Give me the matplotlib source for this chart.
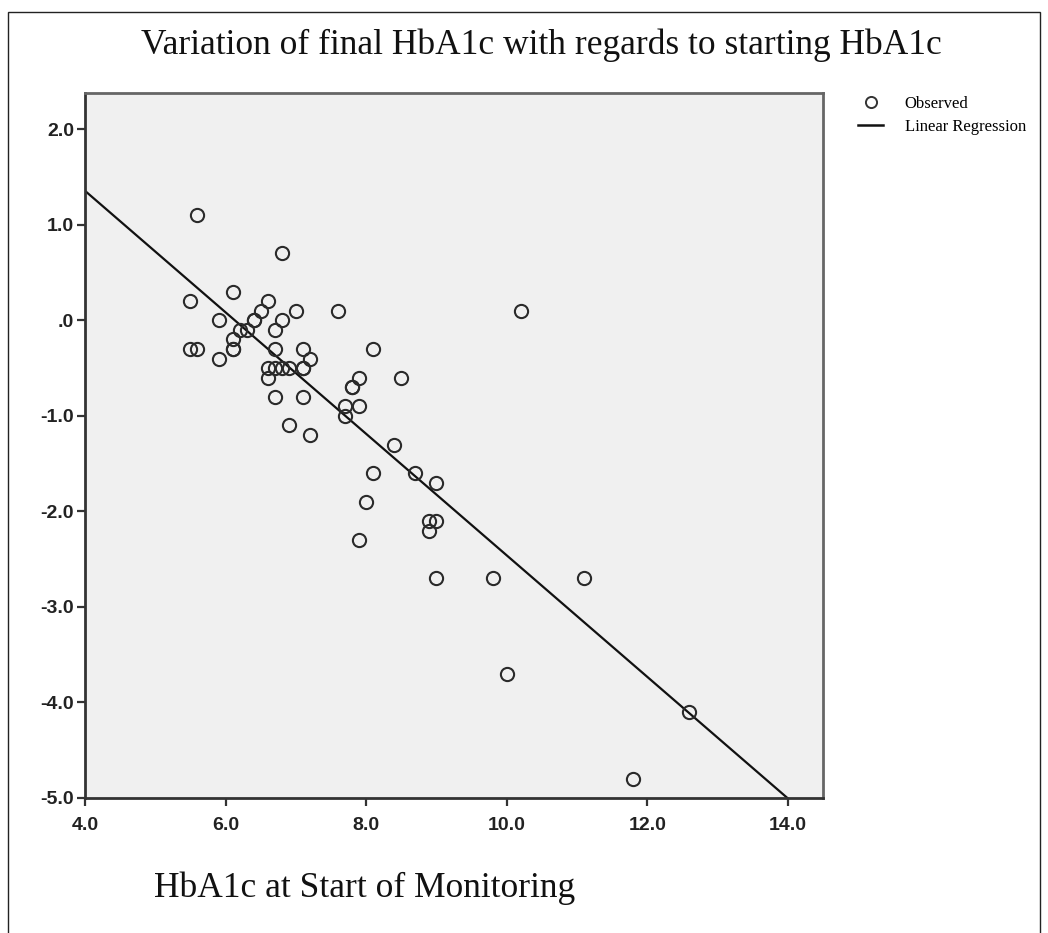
import numpy as np
import matplotlib
matplotlib.use("Agg")
import matplotlib.pyplot as plt
from matplotlib.lines import Line2D
from matplotlib.patches import Rectangle

# ---- data ----
start_hba1c = [5.6, 6.8, 6.1, 5.5, 6.6, 6.5, 7.0, 7.6, 10.2,
               5.9, 6.4, 6.4, 6.8,
               6.2, 6.3, 6.7,
               6.1,
               5.5, 5.6, 6.1, 6.1, 6.7, 7.1, 8.1,
               5.9, 7.2,
               6.6, 6.7, 6.8, 6.9, 7.1, 7.1,
               6.6, 7.9, 8.5,
               7.8, 7.8,
               6.7, 7.1,
               7.7, 7.9,
               7.7,
               6.9,
               7.2,
               8.4,
               8.1, 8.7,
               9.0,
               8.0,
               8.9, 9.0,
               8.9,
               7.9,
               9.0, 9.8, 11.1,
               10.0,
               12.6,
               11.8]
change_hba1c = [1.1, 0.7, 0.3, 0.2, 0.2, 0.1, 0.1, 0.1, 0.1,
                0.0, 0.0, 0.0, 0.0,
                -0.1, -0.1, -0.1,
                -0.2,
                -0.3, -0.3, -0.3, -0.3, -0.3, -0.3, -0.3,
                -0.4, -0.4,
                -0.5, -0.5, -0.5, -0.5, -0.5, -0.5,
                -0.6, -0.6, -0.6,
                -0.7, -0.7,
                -0.8, -0.8,
                -0.9, -0.9,
                -1.0,
                -1.1,
                -1.2,
                -1.3,
                -1.6, -1.6,
                -1.7,
                -1.9,
                -2.1, -2.1,
                -2.2,
                -2.3,
                -2.7, -2.7, -2.7,
                -3.7,
                -4.1,
                -4.8]

# regression line as shown in the picture
fit_intercept = 3.90
fit_slope = -0.636

x_ticks = [4.0, 6.0, 8.0, 10.0, 12.0, 14.0]
x_tick_labels = ["4.0", "6.0", "8.0", "10.0", "12.0", "14.0"]
y_ticks = [2.0, 1.0, 0.0, -1.0, -2.0, -3.0, -4.0, -5.0]
y_tick_labels = ["2.0", "1.0", ".0", "-1.0", "-2.0", "-3.0", "-4.0", "-5.0"]

title = "Variation of final HbA1c with regards to starting HbA1c"
xlabel = "HbA1c at Start of Monitoring"

W, H = 1048, 933
fig = plt.figure(figsize=(W / 100, H / 100), dpi=100)
fig.patch.set_facecolor("white")

# outer frame
fig.add_artist(Rectangle((8 / W, -0.01), (1040 - 8) / W, 1 - 12 / H + 0.01,
                         transform=fig.transFigure, fill=False,
                         edgecolor="#222222", linewidth=1.0))

ax = fig.add_axes([85 / W, 1 - 798 / H, (823 - 85) / W, (798 - 93) / H])
ax.set_facecolor("#f0f0f0")
ax.set_xlim(4.0, 14.5)
ax.set_ylim(-5.0, 2.38)

for side in ["top", "right"]:
    ax.spines[side].set_color("#666666")
    ax.spines[side].set_linewidth(2.0)
for side in ["left", "bottom"]:
    ax.spines[side].set_color("#333333")
    ax.spines[side].set_linewidth(2.0)

xs = np.array([4.0, 14.5])
line, = ax.plot(xs, fit_intercept + fit_slope * xs, color="#111111",
                linewidth=1.6, zorder=2)
sc, = ax.plot(start_hba1c, change_hba1c, linestyle="none", marker="o",
              markersize=9.5, markerfacecolor="none", markeredgecolor="#2a2a2a",
              markeredgewidth=1.5, zorder=3)

ax.set_xticks(x_ticks)
ax.set_xticklabels(x_tick_labels)
ax.set_yticks(y_ticks)
ax.set_yticklabels(y_tick_labels)
ax.tick_params(direction="out", length=6, width=1.6, color="#333333",
               labelsize=14)
ax.tick_params(axis="x", pad=8)
ax.tick_params(axis="y", pad=2)
for lab in ax.get_xticklabels() + ax.get_yticklabels():
    lab.set_fontfamily("Liberation Sans")
    lab.set_fontweight("bold")
    lab.set_color("#222222")

fig.text(541 / W, 1 - 45 / H, title, ha="center", va="center",
         fontfamily="Liberation Serif", fontsize=25.5, color="#111111")
fig.text(365 / W, 1 - 888 / H, xlabel, ha="center", va="center",
         fontfamily="Liberation Serif", fontsize=25.5, color="#111111")

# legend
h_obs = Line2D([], [], linestyle="none", marker="o", markersize=8,
               markerfacecolor="none", markeredgecolor="#333333", markeredgewidth=1.4)
h_lin = Line2D([], [], color="#111111", linewidth=1.8)
leg = fig.legend([h_obs, h_lin], ["Observed", "Linear Regression"],
                 loc="upper left", bbox_to_anchor=(858 / W, 1 - 96 / H),
                 frameon=False, prop={"family": "Liberation Serif", "size": 12},
                 handlelength=1.5, handletextpad=1.3, labelspacing=0.4,
                 borderpad=0, borderaxespad=0)

fig.savefig("out.png", dpi=100, facecolor="white")
